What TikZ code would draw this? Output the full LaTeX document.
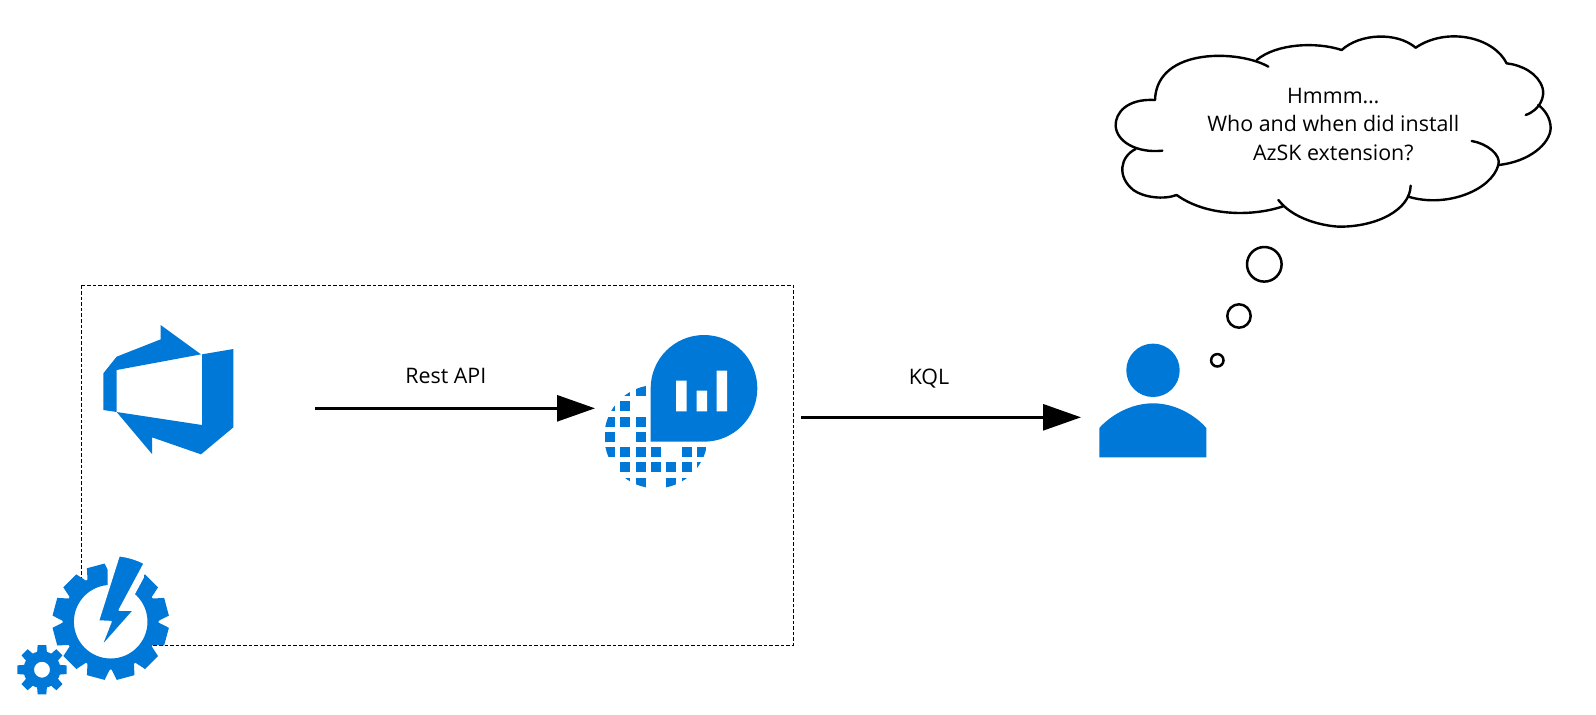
\documentclass[tikz,border=0pt]{standalone}
\usepackage{fontspec}
\setmainfont{Open Sans}
\usetikzlibrary{arrows.meta}
\definecolor{azure}{HTML}{0078D7}
\tikzset{
  bubble/.style={draw=black,line width=1.25pt,fill=white},
  cloudline/.style={draw=black,line width=1.2pt,line cap=round},
  flow/.style={draw=black,line width=1.4pt,-{Triangle[length=19pt,width=13pt]}},
  labeltext/.style={font=\fontsize{10.7}{14.3}\selectfont,text=black,align=center,inner sep=0pt},
  cell/.style={fill=azure},
}
\begin{document}
\begin{tikzpicture}[x=0.5pt,y=-0.5pt]
\useasboundingbox (0,0) rectangle (1596,714);
% dashed frame
\draw[black,line width=0.5pt,dash pattern=on 1.8pt off 1pt] (81.7,285.4) rectangle (793.3,645);
% DevOps icon
\begin{scope}[shift={(90,310)},scale=0.33333]
\fill[azure] (212,45) -- (333,133) -- (80,180) -- (80,306) -- (336,345) -- (336,133) -- (430,117) -- (430,352) -- (333,433) -- (186,382) -- (186,432) -- (80,306) -- (40,300) -- (40,190) -- (80,140) -- (212,88) -- cycle;
\end{scope}
% Log analytics icon
\begin{scope}[shift={(590,320)},scale=0.33333]
\fill[azure] (182,205) arc[start angle=180,end angle=450,radius=160] -- (182,365) -- cycle;
\fill[white] (258,182) rectangle (290,274) (320,212) rectangle (351,274) (380,152) rectangle (411,274);
\begin{scope}
\clip (198,350) circle[radius=155];
\foreach \cx/\cy in {91/198,137/198,45/244,91/244,45/290,91/290,137/290,45/336,137/336,
  45/381,91/381,137/381,183/381,275/381,320/381,
  91/427,137/427,183/427,229/427,275/427,320/427,
  91/473,137/473,229/473,275/473}
  \fill[cell] (\cx,\cy) rectangle ++(30,30);
\end{scope}
\end{scope}
% Person
\fill[azure] (1153,370.3) circle[radius=26.7];
\fill[azure] (1099.3,457.3) -- (1099.3,428) .. controls (1110,416) and (1130,403.3) .. (1153,403.3) .. controls (1176,403.3) and (1196,416) .. (1206.3,428) -- (1206.3,457.3) -- cycle;
% Thought bubbles
\draw[bubble] (1264.3,264.3) circle[radius=17.3];
\draw[bubble] (1239,316) circle[radius=11.7];
\draw[bubble] (1217.3,360.3) circle[radius=6.2];
% Cloud
\begin{scope}[shift={(1100,0)},scale=0.33333]
\draw[cloudline] (505,200) .. controls (420,150) and (170,140) .. (165,300);
\draw[cloudline] (165,300) .. controls (80,295) and (45,340) .. (47,378) .. controls (50,425) and (110,460) .. (187,452);
\draw[cloudline] (107,447) .. controls (60,470) and (50,530) .. (100,570) .. controls (130,592) and (190,600) .. (230,585);
\draw[cloudline] (230,585) .. controls (320,650) and (460,650) .. (552,618);
\draw[cloudline] (535,600) .. controls (590,670) and (700,680) .. (720,680) .. controls (830,680) and (930,630) .. (932,557);
\draw[cloudline] (925,590) .. controls (1040,625) and (1175,570) .. (1195,495);
\draw[cloudline] (1115,423) .. controls (1160,430) and (1205,465) .. (1195,495);
\draw[cloudline] (1195,495) .. controls (1290,485) and (1350,430) .. (1352,385) .. controls (1352,355) and (1335,330) .. (1315,315);
\draw[cloudline] (1277,345) .. controls (1320,330) and (1335,290) .. (1328,265) .. controls (1315,220) and (1265,195) .. (1220,190);
\draw[cloudline] (1220,190) .. controls (1180,110) and (1040,80) .. (947,143);
\draw[cloudline] (947,143) .. controls (890,95) and (780,100) .. (725,150);
\draw[cloudline] (725,150) .. controls (650,125) and (530,130) .. (470,180);
\end{scope}
% Automation gears
\begin{scope}[shift={(110.7,621.7)}]
\fill[white] (0,0) circle[radius=45];
\fill[azure,even odd rule] (0,0) circle[radius=48] (0,0) circle[radius=36.8];
\foreach \a in {15,45,105,135,165,195,225,255,285,315,345}
  \fill[azure] (-\a-14.5:47) -- (-\a-9:58.5) -- (-\a+9:58.5) -- (-\a+14.5:47) -- cycle;
\end{scope}
\begin{scope}[shift={(0,520)},scale=0.33333]
\fill[white] (323,120) -- (323,205) -- (405,222) -- (432,172) -- (432,100) -- cycle;
\draw[white,line width=0.8pt,fill=azure,line join=round] (357,107) .. controls (385,110) and (410,118) .. (433,130) -- (358,270) -- (402,270) -- (302,383) -- (333,305) -- (295,303) -- cycle;
\end{scope}
\begin{scope}[shift={(42,669.7)}]
\fill[azure,even odd rule] (0,0) circle[radius=18.5] (0,0) circle[radius=8];
\foreach \a in {0,45,...,315}
  \fill[azure] (\a-17:17) -- (\a-10:25) -- (\a+10:25) -- (\a+17:17) -- cycle;
\end{scope}
% Connectors
\coordinate (restFrom) at (315,408.3);
\coordinate (restTo) at (595,408.3);
\coordinate (kqlFrom) at (801,417.3);
\coordinate (kqlTo) at (1081,417.3);
\draw[flow] (restFrom) -- (restTo);
\draw[flow] (kqlFrom) -- (kqlTo);
% Labels
\node[labeltext] (restlabel) at (445.8,375.6) {Rest API};
\node[labeltext] (kqllabel) at (929,379) {KQL};
\node[labeltext] (cloudtext) at (1333.3,124.5) {Hmmm…\\Who and when did install\\AzSK extension?};
\end{tikzpicture}
\end{document}
